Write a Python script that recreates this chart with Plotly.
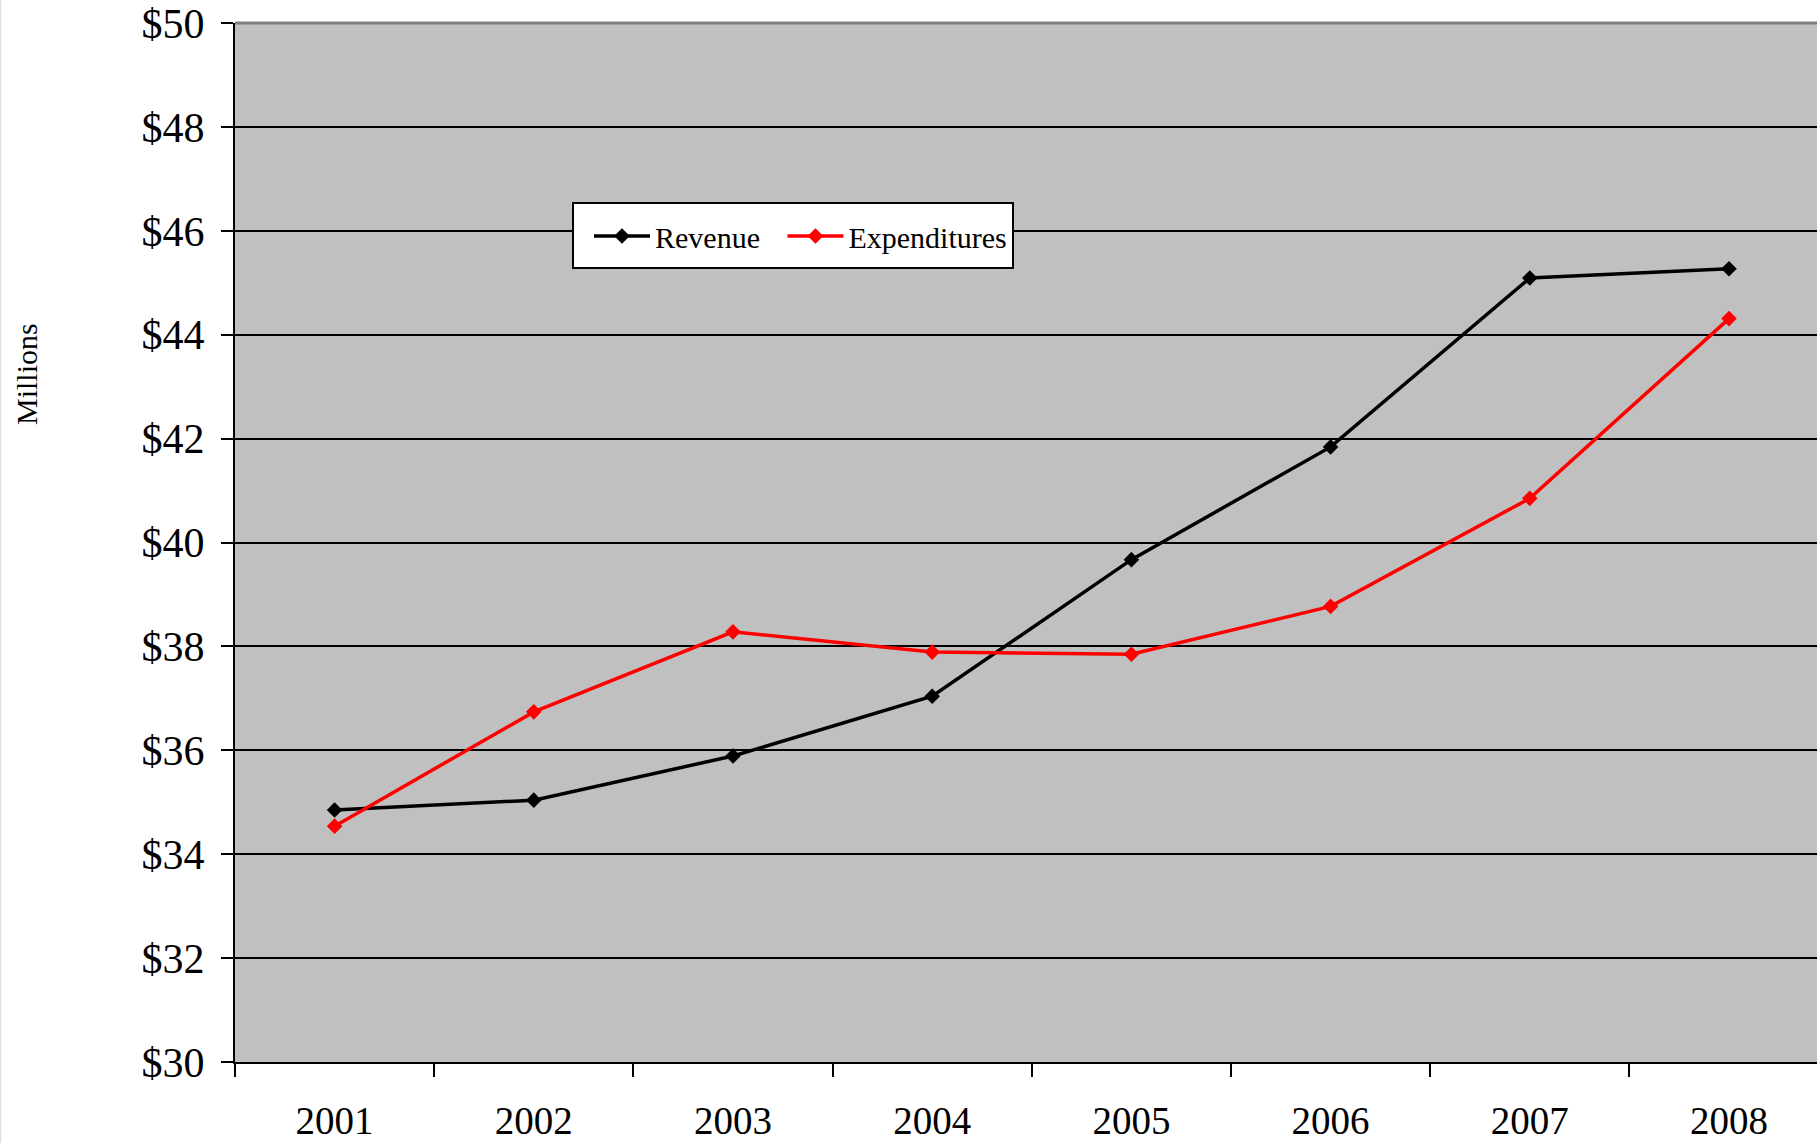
import plotly.graph_objects as go

years = ["2001", "2002", "2003", "2004", "2005", "2006", "2007", "2008"]
revenue = [34.85, 35.04, 35.89, 37.04, 39.67, 41.84, 45.09, 45.27]
expenditures = [34.54, 36.74, 38.28, 37.89, 37.85, 38.77, 40.85, 44.31]
y_ticks = [30, 32, 34, 36, 38, 40, 42, 44, 46, 48, 50]
y_tick_labels = ["$" + str(v) for v in y_ticks]

W, H = 1817, 1143
L, T, B, R = 235, 23, 81, 0
FONT = "Liberation Serif, Times New Roman, serif"
NB = "\u00a0"

fig = go.Figure()
fig.add_trace(go.Scatter(
    x=years, y=revenue, name="Revenue" + NB * 2 + "\u200a", mode="lines+markers",
    line=dict(color="black", width=3.5),
    marker=dict(symbol="diamond", size=12, color="black"),
))
fig.add_trace(go.Scatter(
    x=years, y=expenditures, name="Expenditures", mode="lines+markers",
    line=dict(color="#FF0000", width=3.5),
    marker=dict(symbol="diamond", size=12, color="#FF0000"),
))

plot_w = W - L - R
plot_h = H - B - T
cat_w = 199.2


def px_x(x):
    return (x - L) / plot_w


def px_y(y):
    return (H - B - y) / plot_h


fig.update_layout(
    width=W, height=H,
    margin=dict(l=L, r=R, t=T, b=B, pad=0, autoexpand=False),
    paper_bgcolor="white", plot_bgcolor="#C0C0C0",
    font=dict(family=FONT, color="black", size=39),
    showlegend=True,
    legend=dict(
        x=px_x(589), y=px_y(210),
        xanchor="left", yanchor="top",
        orientation="h", bgcolor="rgba(0,0,0,0)", borderwidth=0,
        font=dict(family=FONT, size=30, color="black"),
        itemwidth=56,
    ),
    xaxis=dict(
        type="category", range=[-0.5, -0.5 + plot_w / cat_w],
        tickson="boundaries", ticks="outside", ticklen=13, tickwidth=2,
        tickcolor="black", showline=True, linecolor="black", linewidth=2,
        showgrid=False, zeroline=False, ticklabelstandoff=23,
        automargin=False,
        tickfont=dict(family=FONT, size=39, color="black"),
    ),
    yaxis=dict(
        range=[30, 50], tickvals=y_ticks, ticktext=y_tick_labels,
        ticks="outside", ticklen=12, tickwidth=2, tickcolor="black",
        showline=True, linecolor="black", linewidth=2,
        showgrid=True, gridcolor="black", gridwidth=2, zeroline=False,
        ticklabelstandoff=8, automargin=False,
        tickfont=dict(family=FONT, size=42, color="black"),
    ),
    shapes=[
        dict(type="line", xref="paper", yref="paper", x0=0, x1=1, y0=1, y1=1,
             line=dict(color="#7F7F7F", width=3)),
        dict(type="line", xref="paper", yref="paper",
             x0=px_x(0.5), x1=px_x(0.5), y0=px_y(H), y1=px_y(0),
             line=dict(color="#E0E0E0", width=1.5)),
        dict(type="rect", xref="paper", yref="paper", layer="above",
             x0=px_x(573), x1=px_x(1013), y0=px_y(268), y1=px_y(203),
             fillcolor="white", line=dict(color="black", width=2)),
    ],
    annotations=[
        dict(text="Millions", xref="paper", yref="paper",
             x=px_x(26), y=px_y(374),
             showarrow=False, textangle=-90,
             font=dict(family=FONT, size=30, color="black"),
             xanchor="center", yanchor="middle"),
    ],
)

fig.write_html("out.html")
